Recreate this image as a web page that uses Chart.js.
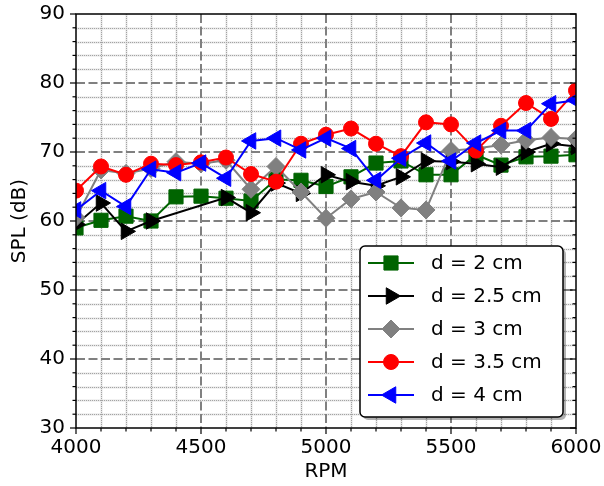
<!DOCTYPE html>
<html>
<head>
<meta charset="utf-8">
<script src="https://cdn.jsdelivr.net/npm/chart.js@4.4.1/dist/chart.umd.min.js"></script>
<style>
  body { margin: 0; background: #fff; }
  canvas { display: block; }
</style>
</head>
<body>
<canvas id="splChart" width="604" height="486"></canvas>
<script>
const rpm = [4000, 4100, 4200, 4300, 4400, 4500, 4600, 4700, 4800, 4900, 5000,
             5100, 5200, 5300, 5400, 5500, 5600, 5700, 5800, 5900, 6000];

// SPL in dB for each tip distance
const splD2   = [59.0, 60.1, 60.7, 60.0, 63.5, 63.6, 63.3, 62.9, 66.0, 65.9, 65.0,
                 66.4, 68.4, 68.7, 66.7, 66.7, 69.6, 68.1, 69.3, 69.4, 69.6];
const splD25  = [59.5, 62.6, 58.5, 60.0, null, null, 63.4, 61.2, 65.5, 64.0, 66.7,
                 65.7, 65.1, 66.4, 68.7, 68.6, 68.3, 67.8, 70.0, 71.2, 70.8];
const splD3   = [60.5, 67.4, 66.9, 67.6, 68.6, 68.3, 68.8, 64.6, 67.9, 64.2, 60.4,
                 63.2, 64.2, 61.9, 61.6, 70.2, 70.5, 71.0, 71.7, 72.1, 71.9];
const splD35  = [64.4, 67.9, 66.7, 68.3, 68.1, 68.5, 69.2, 66.8, 65.7, 71.2, 72.5,
                 73.4, 71.2, 69.4, 74.3, 74.0, 70.2, 73.8, 77.1, 74.8, 78.9];
const splD4   = [61.6, 64.4, 62.1, 67.5, 67.0, 68.4, 66.2, 71.6, 72.0, 70.3, 72.0,
                 70.5, 65.9, 69.1, 71.3, 68.7, 71.3, 73.1, 73.1, 77.0, 77.5];

const seriesLabels = ['d = 2 cm', 'd = 2.5 cm', 'd = 3 cm', 'd = 3.5 cm', 'd = 4 cm'];
const seriesValues = [splD2, splD25, splD3, splD35, splD4];
const seriesColors = ['#006400', '#000000', '#808080', '#ff0000', '#0000ff'];
const seriesMarkers = [
  { pointStyle: 'rect', radius: 10, rotation: 0 },
  { pointStyle: 'triangle', radius: 9.5, rotation: 90 },
  { pointStyle: 'rectRot', radius: 9, rotation: 0 },
  { pointStyle: 'circle', radius: 7.5, rotation: 0 },
  { pointStyle: 'triangle', radius: 9.5, rotation: -90 }
];

const xMin = 4000, xMax = 6000, xMajor = 500, xMinor = 100;
const yMin = 30, yMax = 90, yMajor = 10, yMinor = 2;

const FONT = 'DejaVu Sans';

const datasets = seriesLabels.map((label, i) => ({
  label: label,
  data: rpm.map((r, j) => ({ x: r, y: seriesValues[i][j] })),
  borderColor: seriesColors[i],
  backgroundColor: seriesColors[i],
  pointBackgroundColor: seriesColors[i],
  pointBorderColor: seriesColors[i],
  pointBorderWidth: 1,
  borderWidth: 2,
  pointStyle: seriesMarkers[i].pointStyle,
  pointRadius: seriesMarkers[i].radius,
  pointRotation: seriesMarkers[i].rotation,
  spanGaps: true,
  tension: 0,
  clip: 0,
  order: seriesLabels.length - i
}));

function lineAt(ctx, x1, y1, x2, y2) {
  ctx.beginPath();
  ctx.moveTo(x1, y1);
  ctx.lineTo(x2, y2);
  ctx.stroke();
}

// no extra room for overhanging tick labels, layout padding decides the plot box
function noOverhang(scale) {
  scale.paddingLeft = 0;
  scale.paddingRight = 0;
  scale.paddingTop = 0;
  scale.paddingBottom = 0;
}

// grid (minor dotted + major dashed), tick marks and frame
const gridPlugin = {
  id: 'mplGrid',
  beforeDatasetsDraw(chart) {
    const { ctx, chartArea: a, scales: { x, y } } = chart;
    ctx.save();
    // minor grid
    for (let pass = 0; pass < 2; pass++) {
      ctx.strokeStyle = pass === 0 ? '#e6e6e6' : '#a4a4a4';
      ctx.lineWidth = pass === 0 ? 2 : 1;
      ctx.setLineDash(pass === 0 ? [] : [1, 1]);
      for (let v = xMin; v <= xMax; v += xMinor) {
        if (v % xMajor === 0) continue;
        const px = Math.round(x.getPixelForValue(v)) + 0.5;
        lineAt(ctx, px, a.top, px, a.bottom);
      }
      for (let v = yMin; v <= yMax; v += yMinor) {
        if (v % yMajor === 0) continue;
        const py = Math.round(y.getPixelForValue(v)) + 0.5;
        lineAt(ctx, a.left, py, a.right, py);
      }
    }
    // major grid
    ctx.strokeStyle = '#808080';
    ctx.lineWidth = 2;
    ctx.setLineDash([9, 3.5]);
    for (let v = xMin + xMajor; v < xMax; v += xMajor) {
      const px = Math.round(x.getPixelForValue(v));
      lineAt(ctx, px, a.top, px, a.bottom);
    }
    for (let v = yMin + yMajor; v < yMax; v += yMajor) {
      const py = Math.round(y.getPixelForValue(v));
      lineAt(ctx, a.left, py, a.right, py);
    }
    ctx.restore();
  },
  afterDatasetsDraw(chart) {
    const { ctx, chartArea: a, scales: { x, y } } = chart;
    ctx.save();
    ctx.strokeStyle = '#000';
    ctx.lineWidth = 1.2;
    ctx.setLineDash([]);
    for (let v = xMin; v <= xMax; v += xMinor) {
      const px = x.getPixelForValue(v);
      const len = v % xMajor === 0 ? 6 : 3.5;
      lineAt(ctx, px, a.bottom, px, a.bottom + len);
    }
    for (let v = yMin; v <= yMax; v += yMinor) {
      const py = y.getPixelForValue(v);
      const len = v % yMajor === 0 ? 6 : 3.5;
      lineAt(ctx, a.left - len, py, a.left, py);
      lineAt(ctx, a.right, py, a.right - len, py);
    }
    ctx.lineWidth = 1.5;
    ctx.strokeRect(a.left, a.top, a.right - a.left, a.bottom - a.top);
    ctx.restore();
  }
};

// boxed legend in the lower right of the plot
const legendPlugin = {
  id: 'boxLegend',
  afterDraw(chart) {
    const { ctx, chartArea: a } = chart;
    const w = 203, h = 171, rowH = 33;
    const bx = a.right - 13 - w, by = a.bottom - 11 - h;
    const roundBox = (x0, y0) => {
      ctx.beginPath();
      ctx.roundRect(x0, y0, w, h, 5);
    };
    ctx.save();
    ctx.fillStyle = 'rgba(0,0,0,0.3)';
    roundBox(bx + 3, by + 3);
    ctx.fill();
    ctx.fillStyle = '#fff';
    roundBox(bx, by);
    ctx.fill();
    ctx.strokeStyle = '#000';
    ctx.lineWidth = 1.5;
    ctx.stroke();

    ctx.font = '20px "' + FONT + '"';
    ctx.textBaseline = 'middle';
    chart.data.datasets.forEach((ds, i) => {
      const cy = by + 17 + i * rowH;
      ctx.strokeStyle = ds.borderColor;
      ctx.lineWidth = 2;
      lineAt(ctx, bx + 8, cy, bx + 54, cy);
      ctx.fillStyle = ds.pointBackgroundColor;
      ctx.strokeStyle = ds.pointBorderColor;
      ctx.lineWidth = 1;
      Chart.helpers.drawPoint(ctx, {
        pointStyle: ds.pointStyle,
        radius: ds.pointRadius,
        rotation: ds.pointRotation,
        borderWidth: 1
      }, bx + 31, cy);
      ctx.fillStyle = '#000';
      ctx.fillText(ds.label, bx + 71, cy + 1);
    });
    ctx.restore();
  }
};

new Chart(document.getElementById('splChart'), {
  type: 'line',
  data: { datasets: datasets },
  options: {
    responsive: false,
    animation: false,
    layout: { padding: { top: 14, right: 28, left: 0, bottom: 0 } },
    plugins: {
      legend: { display: false },
      tooltip: { enabled: false }
    },
    scales: {
      x: {
        type: 'linear',
        min: xMin,
        max: xMax,
        afterFit(scale) { scale.height = 58; noOverhang(scale); },
        grid: { display: false, drawTicks: false },
        border: { display: false },
        ticks: {
          stepSize: xMajor,
          color: '#000',
          font: { family: FONT, size: 20 },
          padding: 8,
          maxRotation: 0,
          autoSkip: false,
          callback: v => String(v)
        },
        title: {
          display: true,
          text: 'RPM',
          color: '#000',
          font: { family: FONT, size: 20 },
          padding: { top: 0, bottom: 2 }
        }
      },
      y: {
        min: yMin,
        max: yMax,
        afterFit(scale) { scale.width = 76; noOverhang(scale); },
        grid: { display: false, drawTicks: false },
        border: { display: false },
        ticks: {
          stepSize: yMajor,
          color: '#000',
          font: { family: FONT, size: 20 },
          padding: 11
        },
        title: {
          display: true,
          text: 'SPL (dB)',
          color: '#000',
          font: { family: FONT, size: 20 },
          padding: { top: 8, bottom: 0 }
        }
      }
    }
  },
  plugins: [gridPlugin, legendPlugin]
});
</script>
</body>
</html>
